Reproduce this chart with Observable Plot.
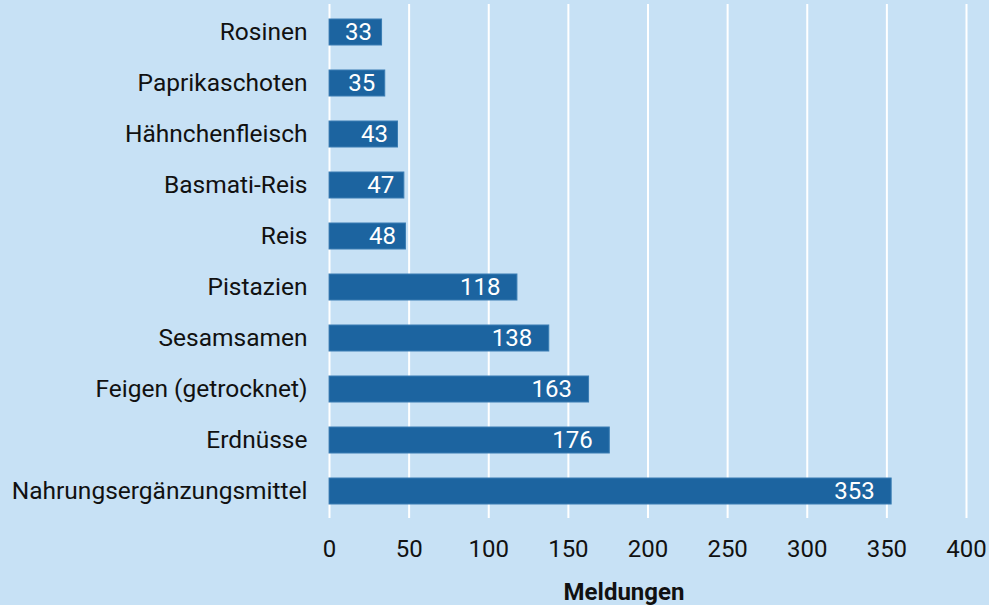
<!DOCTYPE html>
<html>
<head>
<meta charset="utf-8">
<script src="https://cdn.jsdelivr.net/npm/d3@7"></script>
<script src="https://cdn.jsdelivr.net/npm/@observablehq/plot@0.6"></script>
<style>
  html, body { margin: 0; padding: 0; background: #c7e1f5; }
  #chart { width: 989px; height: 605px; }
</style>
</head>
<body>
<div id="chart"></div>
<script>
const categories = ["Rosinen", "Paprikaschoten", "Hähnchenfleisch", "Basmati-Reis", "Reis", "Pistazien", "Sesamsamen", "Feigen (getrocknet)", "Erdnüsse", "Nahrungsergänzungsmittel"];
const values = [33, 35, 43, 47, 48, 118, 138, 163, 176, 353];
const xTicks = [0, 50, 100, 150, 200, 250, 300, 350, 400];
const xLabel = ["Meldungen"];

const data = categories.map((c, i) => ({ category: c, value: values[i] }));
const small = data.filter(d => d.value < 100);
const large = data.filter(d => d.value >= 100);

const chart = Plot.plot({
  width: 989,
  height: 605,
  marginLeft: 329,
  marginRight: 23,
  marginTop: 4,
  marginBottom: 87,
  style: { background: "#c7e1f5", fontFamily: "Roboto, sans-serif", fontSize: "22px", color: "#111" },
  x: { domain: [0, 400], ticks: xTicks, label: null },
  y: { domain: categories, paddingInner: 0.5, paddingOuter: 0.25, label: null },
  marks: [
    Plot.gridX(xTicks, { stroke: "white", strokeOpacity: 1, strokeWidth: 2 }),
    Plot.barX(data, { x: "value", y: "category", fill: "#1c64a0", stroke: "#3a7db3", strokeWidth: 1 }),
    Plot.text(small, {
      x: "value", y: "category", text: d => String(d.value),
      textAnchor: "end", dx: -10, fill: "white", fontSize: 24
    }),
    Plot.text(large, {
      x: "value", y: "category", text: d => String(d.value),
      textAnchor: "end", dx: -17, fill: "white", fontSize: 24
    }),
    Plot.axisY({ tickSize: 0, tickPadding: 22, fontSize: 24.5, label: null }),
    Plot.axisX(xTicks, { tickSize: 0, tickPadding: 21, fontSize: 24, label: null }),
    Plot.text(xLabel, { frameAnchor: "bottom", dx: -24, dy: 74, lineAnchor: "middle", fontWeight: "bold", fontSize: 24, fill: "#111", text: d => d })
  ]
});
document.getElementById("chart").appendChild(chart);
</script>
</body>
</html>
